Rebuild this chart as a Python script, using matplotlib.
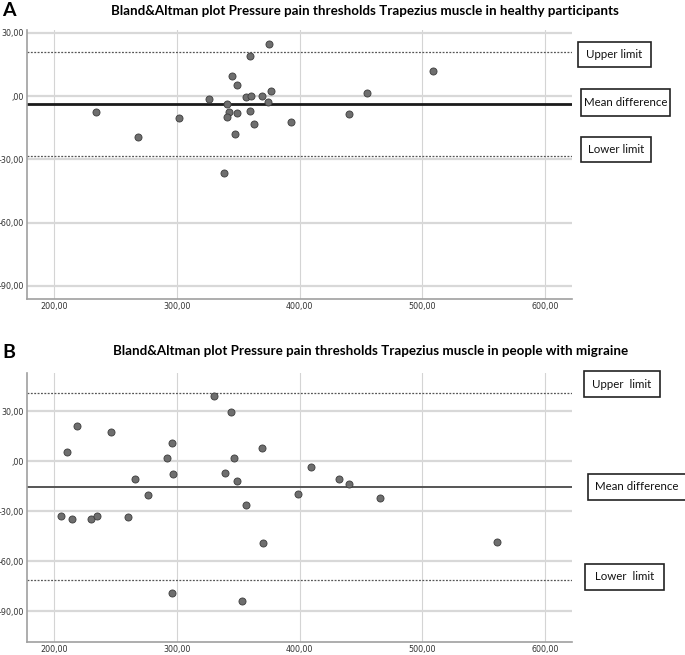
import matplotlib
matplotlib.use('Agg')
import matplotlib.pyplot as plt
from matplotlib.patches import Rectangle

W, H = 685, 655

# panel A - healthy participants
a_mean_x = [234.6, 268.2, 301.8, 326.4, 341.1, 342.5, 341.1, 345.4, 348.9, 349.3,
            347.5, 356.1, 360.4, 359.6, 359.6, 363.2, 369.6, 374.3, 375.4, 376.8,
            392.9, 440.0, 454.6, 508.9, 338.2]
a_diff_y = [-7.6, -19.4, -10.6, -1.3, -3.5, -7.6, -10.0, 9.7, 5.1, -7.8,
            -17.8, -0.3, 0.3, 19.2, -7.0, -13.2, 0.0, -2.7, 24.6, 2.5,
            -12.2, -8.6, 1.3, 11.9, -36.3]
a_upper, a_meandiff, a_lower = 20.8, -3.8, -28.4

# panel B - people with migraine
b_mean_x = [210.7, 218.9, 246.8, 266.1, 291.8, 296.4, 296.8, 330.0, 338.9, 344.6,
            346.8, 349.3, 369.3, 409.6, 432.1, 440.7, 205.4, 214.3, 230.0, 235.0,
            260.0, 276.8, 356.1, 370.4, 398.6, 465.7, 560.7, 296.4, 352.9]
b_diff_y = [5.4, 21.1, 17.7, -10.5, 1.8, 11.1, -8.0, 39.0, -7.4, 29.2,
            2.0, -12.1, 7.6, -3.6, -10.9, -13.9, -32.8, -34.6, -35.0, -32.8,
            -33.6, -20.2, -26.2, -48.9, -19.8, -22.4, -48.7, -79.2, -84.0]
b_upper, b_meandiff, b_lower = 40.6, -15.5, -71.6

x_ticks = [200, 300, 400, 500, 600]
y_ticks = [30, 0, -30, -60, -90]


def lab(v):
    s = f"{v:.2f}".replace('.', ',')
    return s[1:] if v == 0 else s


def px_axes(l, t, r, b):
    return [l / W, 1 - b / H, (r - l) / W, (b - t) / H]


def box(x0, y0, x1, y1, text):
    fig.patches.append(Rectangle((x0 / W, 1 - y1 / H), (x1 - x0) / W, (y1 - y0) / H,
                                 transform=fig.transFigure, fill=False,
                                 edgecolor='#222222', linewidth=1.2))
    fig.text((x0 + x1) / 2 / W, 1 - (y0 + y1) / 2 / H, text, ha='center', va='center',
             fontsize=8.3, family='Lato', color='#111111')


def panel(ax, xs, ys, up, md, lo, ylim, mean_style):
    ax.set_xlim(178, 622)
    ax.set_ylim(*ylim)
    ax.set_xticks(x_ticks)
    ax.set_xticklabels([lab(v) for v in x_ticks])
    ax.set_yticks(y_ticks)
    ax.set_yticklabels([lab(v) for v in y_ticks])
    ax.tick_params(length=0, labelsize=5.8, labelcolor='#333333', pad=2)
    for lbl in ax.get_xticklabels() + ax.get_yticklabels():
        lbl.set_family(['Liberation Sans Narrow', 'DejaVu Sans'])
    ax.grid(axis='x', color='#d4d4d4', linewidth=0.8)
    ax.grid(axis='y', color='#d8d8d8', linewidth=1.6)
    ax.set_axisbelow(True)
    for s in ['top', 'right']:
        ax.spines[s].set_visible(False)
    for s in ['left', 'bottom']:
        ax.spines[s].set_color('#a0a0a0')
        ax.spines[s].set_linewidth(1.2)
    ax.axhline(up, color='#555555', linestyle=(0, (1.5, 1.2)), linewidth=0.9)
    ax.axhline(lo, color='#555555', linestyle=(0, (1.5, 1.2)), linewidth=0.9)
    ax.axhline(md, **mean_style)
    ax.scatter(xs, ys, s=26, color='#6e6e6e', edgecolor='#3c3c3c', linewidth=0.6, zorder=3)


fig = plt.figure(figsize=(6.85, 6.55), dpi=100)

axA = fig.add_axes(px_axes(27, 30, 572, 299))
panel(axA, a_mean_x, a_diff_y, a_upper, a_meandiff, a_lower, (-96.3, 31.4),
      dict(color='#1a1a1a', linewidth=2.0))

axB = fig.add_axes(px_axes(27, 373, 572, 642))
panel(axB, b_mean_x, b_diff_y, b_upper, b_meandiff, b_lower, (-108.6, 52.8),
      dict(color='#555555', linewidth=1.4))

fig.text(9 / W, 1 - 11 / H, 'A', fontsize=14, fontweight='bold', ha='center', va='center',
         family='Lato')
fig.text(365 / W, 1 - 11 / H,
         'Bland&Altman plot Pressure pain thresholds Trapezius muscle in healthy participants',
         fontsize=9.6, fontweight='bold', ha='center', va='center', family='Lato')
fig.text(9 / W, 1 - 352 / H, 'B', fontsize=14, fontweight='bold', ha='center', va='center',
         family='Lato')
fig.text(371 / W, 1 - 351 / H,
         'Bland&Altman plot Pressure pain thresholds Trapezius muscle in people with migraine',
         fontsize=9.6, fontweight='bold', ha='center', va='center', family='Lato')

box(578, 42, 651, 67, 'Upper limit')
box(581, 89, 670, 116, 'Mean difference')
box(581, 137, 651, 162, 'Lower limit')
box(584, 371, 660, 397, 'Upper  limit')
box(588, 474, 686, 500, 'Mean difference')
box(585, 564, 664, 590, 'Lower  limit')

fig.savefig('out.png', dpi=100)
